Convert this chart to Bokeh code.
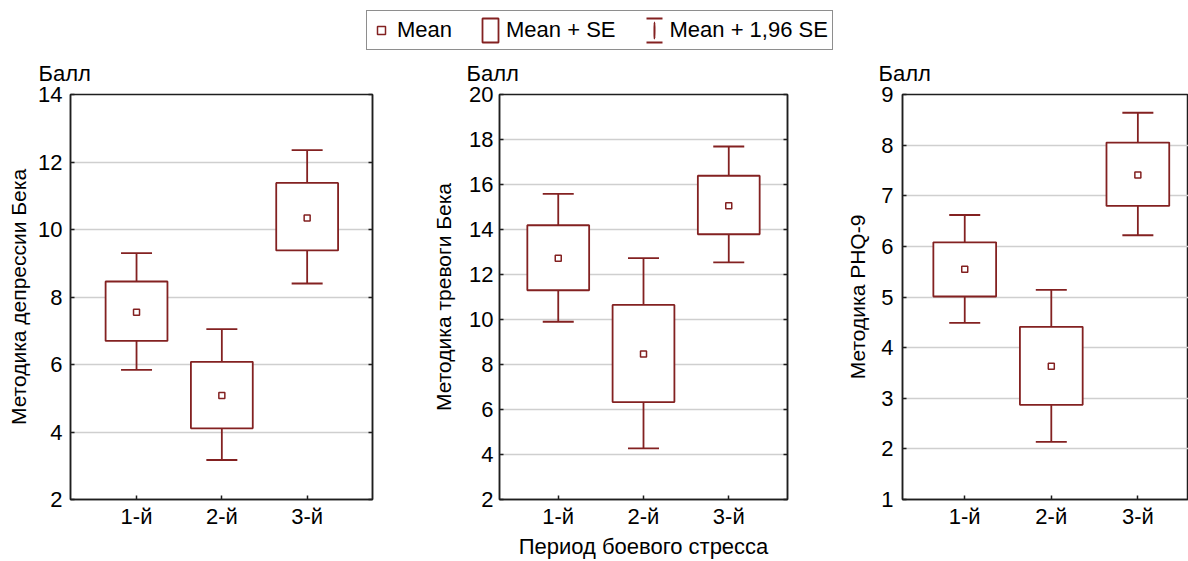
from bokeh.plotting import figure
from bokeh.models import (Range1d, FixedTicker, LinearAxis, Legend,
                          LegendItem, ColumnDataSource)
from bokeh.layouts import column, row
from bokeh.embed import file_html
from bokeh.resources import INLINE

# ---------------- data ----------------
periods = ["1-й", "2-й", "3-й"]

dep_mean = [7.55, 5.08, 10.34]
dep_se_lo = [6.70, 4.11, 9.38]
dep_se_hi = [8.46, 6.08, 11.38]
dep_ci_lo = [5.84, 3.17, 8.40]
dep_ci_hi = [9.30, 7.05, 12.35]

anx_mean = [12.72, 8.47, 15.06]
anx_se_lo = [11.30, 6.33, 13.79]
anx_se_hi = [14.19, 10.65, 16.39]
anx_ci_lo = [9.90, 4.27, 12.54]
anx_ci_hi = [15.58, 12.73, 17.69]

phq_mean = [5.55, 3.63, 7.41]
phq_se_lo = [5.01, 2.87, 6.80]
phq_se_hi = [6.08, 4.41, 8.05]
phq_ci_lo = [4.49, 2.14, 6.22]
phq_ci_hi = [6.62, 5.14, 8.64]

dep_yticks = [2, 4, 6, 8, 10, 12, 14]
anx_yticks = [2, 4, 6, 8, 10, 12, 14, 16, 18, 20]
phq_yticks = [1, 2, 3, 4, 5, 6, 7, 8, 9]

dep_title = "Методика депрессии Бека"
anx_title = "Методика тревоги Бека"
phq_title = "Методика PHQ-9"
unit_title = "Балл"
x_title = "Период боевого стресса"
legend_labels = ["Mean", "Mean + SE", "Mean + 1,96 SE"]

# ---------------- style ----------------
FONT = "Liberation Sans"
FS = "22px"
FS_V = "21px"
RED = "#832121"
INK = "#1e1e1e"
GRID = "#cfcfcf"
LW = 1.8
LEG_H = 50
PH = 511
BOX_W = 0.725
CAP = 31


def style_axis(ax, show_labels=True, tick_standoff=6):
    ax.axis_line_color = INK
    ax.axis_line_width = 1.5
    ax.major_tick_line_color = INK
    ax.major_tick_line_width = 1.5
    ax.major_tick_in = 4
    ax.major_tick_out = 0
    ax.minor_tick_line_color = None
    ax.major_label_text_font = FONT
    ax.major_label_standoff = tick_standoff
    if show_labels:
        ax.major_label_text_font_size = FS
        ax.major_label_text_color = "black"
    else:
        ax.major_label_text_font_size = "1px"
        ax.major_label_text_color = None
        ax.major_label_standoff = 0
    ax.axis_label_text_font = FONT
    ax.axis_label_text_font_size = FS
    ax.axis_label_text_font_style = "normal"
    ax.axis_label_text_color = "black"


def make_panel(mean, se_lo, se_hi, ci_lo, ci_hi, yticks, ylabel, width,
               borders, xr, ytick_standoff, ylabel_standoff, unit_dx,
               xlabel=None, right_axis=True):
    xs = list(range(1, len(periods) + 1))
    left, right, top, bottom = borders
    p = figure(width=width, height=PH, x_range=Range1d(*xr),
               y_range=Range1d(yticks[0], yticks[-1]),
               output_backend="svg", toolbar_location=None,
               min_border_left=left, min_border_right=right,
               min_border_top=top, min_border_bottom=bottom)
    p.outline_line_color = INK
    p.outline_line_width = 1.5
    p.background_fill_color = "white"
    p.border_fill_color = "white"
    p.xgrid.visible = False
    p.ygrid.ticker = FixedTicker(ticks=yticks)
    p.ygrid.grid_line_color = GRID
    p.ygrid.grid_line_width = 1.5

    p.title.text = unit_title
    p.title.align = "left"
    p.title.offset = unit_dx
    p.title.standoff = 17
    p.title.text_font = FONT
    p.title.text_font_size = FS
    p.title.text_font_style = "normal"
    p.title.text_color = "black"

    xa = p.xaxis[0]
    ya = p.yaxis[0]
    xa.ticker = FixedTicker(ticks=xs)
    xa.major_label_overrides = {x: lab for x, lab in zip(xs, periods)}
    ya.ticker = FixedTicker(ticks=yticks)
    style_axis(xa, True, 4)
    style_axis(ya, True, ytick_standoff)
    ya.axis_label = ylabel
    ya.axis_label_text_font_size = FS_V
    ya.axis_label_standoff = ylabel_standoff
    if xlabel:
        xa.axis_label = xlabel
        xa.axis_label_standoff = 2

    if right_axis:
        r_ax = LinearAxis(ticker=FixedTicker(ticks=yticks))
        style_axis(r_ax, False)
        p.add_layout(r_ax, "right")

    src = ColumnDataSource(dict(x=xs, mean=mean, se_lo=se_lo, se_hi=se_hi,
                                ci_lo=ci_lo, ci_hi=ci_hi))
    p.segment(x0="x", y0="ci_lo", x1="x", y1="ci_hi", source=src,
              line_color=RED, line_width=LW)
    p.vbar(x="x", width=BOX_W, bottom="se_lo", top="se_hi", source=src,
           fill_color="white", line_color=RED, line_width=LW)
    p.scatter(x="x", y="ci_hi", marker="dash", size=CAP, source=src,
              line_color=RED, line_width=LW)
    p.scatter(x="x", y="ci_lo", marker="dash", size=CAP, source=src,
              line_color=RED, line_width=LW)
    p.scatter(x="x", y="mean", marker="square", size=6, source=src,
              fill_color="white", line_color=RED, line_width=1.5)
    return p, src


p1, src1 = make_panel(dep_mean, dep_se_lo, dep_se_hi, dep_ci_lo, dep_ci_hi,
                      dep_yticks, dep_title, 420, (70, 48, 35, 61),
                      (0.226, 3.766), 8, 5, -32)
p2, _ = make_panel(anx_mean, anx_se_lo, anx_se_hi, anx_ci_lo, anx_ci_hi,
                   anx_yticks, anx_title, 400, (79, 33, 40, 56),
                   (0.311, 3.689), 6, 11, -33, xlabel=x_title)
p3, _ = make_panel(phq_mean, phq_se_lo, phq_se_hi, phq_ci_lo, phq_ci_hi,
                   phq_yticks, phq_title, 368, (82, 0, 39, 58),
                   (0.281, 3.585), 9, 9, -24, right_axis=False)

# ---------------- legend strip ----------------
# The key glyphs' own copies sit behind the opaque legend box.
lg = figure(width=1188, height=LEG_H, x_range=Range1d(-8, 12),
            y_range=Range1d(-10, 25),
            output_backend="svg", toolbar_location=None,
            x_axis_location=None, y_axis_location=None, min_border=0)
lg.outline_line_color = None
lg.grid.visible = False
lsrc = ColumnDataSource(dict(src1.data))
r_mean = lg.scatter(x="x", y="mean", marker="square", size=6, source=lsrc,
                    fill_color="white", line_color=RED, line_width=1.5)
r_box = lg.vbar(x="x", width=BOX_W, bottom="se_lo", top="se_hi", source=lsrc,
                fill_color="white", line_color=RED, line_width=LW)
r_caps = lg.vbar(x="x", width=BOX_W, bottom="ci_lo", top="ci_hi", source=lsrc,
                 fill_color=None, line_color=RED, line_width=LW,
                 line_dash="16 24")
r_stem = lg.ellipse(x="x", y="mean", width=0.3, height=20,
                    width_units="screen", height_units="screen", source=lsrc,
                    fill_color=None, line_color=RED, line_width=LW)
legend = Legend(items=[LegendItem(label=legend_labels[0], renderers=[r_mean]),
                       LegendItem(label=legend_labels[1], renderers=[r_box]),
                       LegendItem(label=legend_labels[2], renderers=[r_caps, r_stem])],
                orientation="horizontal", location=(366, 0), margin=0,
                padding=4, spacing=28, glyph_width=20, glyph_height=30,
                label_standoff=6, label_text_font=FONT,
                label_text_font_size=FS, label_text_color="black",
                border_line_color=INK, border_line_width=1.5,
                background_fill_color="white", background_fill_alpha=1)
lg.add_layout(legend)

layout = column(lg, row(p1, p2, p3))
open("out.html", "w").write(file_html(layout, INLINE))
